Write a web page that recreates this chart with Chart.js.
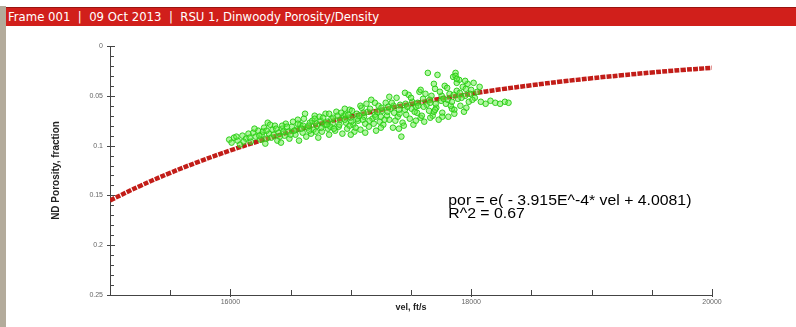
<!DOCTYPE html>
<html><head><meta charset="utf-8">
<script src="https://cdn.jsdelivr.net/npm/chart.js@4"></script>
<style>
html,body{margin:0;padding:0;background:#fff;width:796px;height:327px;overflow:hidden}
#wrap{position:relative;width:796px;height:327px;background:#fff}
#stripe{position:absolute;left:0;top:6px;width:6px;height:321px;background:#b3ab9b}
#bar{position:absolute;left:6px;top:7px;width:790px;height:19px;background:#d11f1b;border-top:1px solid #9a1410;color:#fff;font:13px 'Liberation Sans Narrow','DejaVu Sans Condensed',sans-serif;line-height:18px;padding-left:2px;box-sizing:border-box;white-space:pre}
canvas{position:absolute;left:0;top:0}
</style></head>
<body><div id="wrap"><div id="stripe"></div><div id="bar">Frame 001  |  09 Oct 2013  |  RSU 1, Dinwoody Porosity/Density</div>
<canvas id="c" width="796" height="327"></canvas></div>
<script>
// ---- data ----
const curveVel = [15000,15250,15500,15750,16000,16250,16500,16750,17000,17250,17500,17750,18000,18250,18500,18750,19000,19250,19500,19750,20000];
const curvePor = [0.155,0.1405,0.1274,0.1156,0.1048,0.0950,0.0862,0.0781,0.0708,0.0642,0.0582,0.0528,0.0479,0.0434,0.0394,0.0357,0.0324,0.0294,0.0266,0.0241,0.0219];

const scatterVel = [15990,16010,16030,16060,16080,16100,16130,16150,16170,16190,16210,16230,16250,16260,16280,16290,16310,16320,16340,16350,16370,16390,16400,16420,16430,16450,16460,16480,16490,16510,16520,16540,16550,16570,16580,16600,16610,16630,16640,16660,16670,16690,16700,16720,16730,16750,16760,16780,16790,16810,16820,16840,16850,16870,16880,16900,16910,16930,16940,16960,16970,16990,17000,17020,17030,17050,17060,17080,17090,17110,17120,17140,17150,17170,17180,17200,17210,17230,17240,17260,17270,17290,17300,17320,17330,17350,17360,17380,17390,17410,17420,17430,17450,17460,17480,17490,17510,17520,17540,17550,17570,17580,17600,17610,17630,17640,17650,17670,17680,17700,17710,17720,17730,17750,17760,17780,17790,17810,17820,17840,17850,17860,17870,17880,17890,17900,17910,17930,17940,17950,17970,17980,18000,18020,18030,18050,18070,18080,18120,18160,18200,18240,18280,18310,
16605,16655,16705,16755,16805,16855,16905,16955,17005,17055,17105,17155,17205,17255,17305,17355,17405,17455,17505,17555,17605,17655,17705,17755,17805,17855,17905,17955,16200,16330,16470,16560,16620,16740,16830,16990,17130,17280,17440,17590,17690,17830,17960,
16050,16110,16160,16240,16270,16300,16360,16380,16410,16440,16500,16530,16590,16650,16680,16710,16770,16800,16860,16890,16920,16950,16980,17010,17040,17070,17100,17160,17190,17220,17250,17310,17340,17370,17400,17470,17500,17530,17560,17620,17660,17700,17740,17770,17800,17840,17880,17920,17950,17990,18010,17860,17760,17660,17540,17400,17250,17120,17000,17870,17880,17690,17580,17450,17320,17200,17080,16950,16820,16700,16560,16430,16300];
const scatterPor = [0.094,0.097,0.092,0.095,0.099,0.090,0.093,0.088,0.096,0.087,0.091,0.085,0.094,0.089,0.082,0.098,0.077,0.088,0.092,0.084,0.080,0.095,0.087,0.097,0.083,0.090,0.078,0.086,0.093,0.081,0.076,0.089,0.084,0.095,0.079,0.087,0.073,0.091,0.082,0.077,0.088,0.084,0.070,0.080,0.092,0.075,0.086,0.079,0.068,0.083,0.089,0.073,0.078,0.085,0.066,0.081,0.074,0.088,0.070,0.077,0.083,0.064,0.072,0.079,0.086,0.068,0.075,0.084,0.062,0.071,0.078,0.066,0.081,0.054,0.073,0.069,0.085,0.060,0.076,0.065,0.079,0.057,0.070,0.074,0.063,0.082,0.067,0.052,0.071,0.059,0.091,0.077,0.064,0.069,0.049,0.073,0.056,0.079,0.061,0.067,0.046,0.072,0.053,0.076,0.059,0.027,0.065,0.050,0.070,0.043,0.062,0.029,0.074,0.055,0.067,0.040,0.058,0.071,0.048,0.063,0.031,0.064,0.027,0.045,0.053,0.034,0.060,0.041,0.066,0.050,0.038,0.056,0.044,0.037,0.052,0.046,0.041,0.056,0.058,0.055,0.057,0.058,0.056,0.057,
0.080,0.085,0.077,0.082,0.076,0.072,0.079,0.069,0.076,0.073,0.067,0.075,0.071,0.062,0.066,0.060,0.068,0.058,0.063,0.057,0.061,0.054,0.058,0.050,0.054,0.049,0.047,0.043,0.083,0.079,0.081,0.074,0.068,0.071,0.081,0.080,0.058,0.074,0.080,0.070,0.066,0.060,0.062,
0.091,0.096,0.092,0.090,0.086,0.093,0.089,0.083,0.091,0.086,0.089,0.085,0.083,0.080,0.075,0.086,0.072,0.079,0.083,0.070,0.067,0.074,0.069,0.065,0.082,0.070,0.074,0.063,0.078,0.066,0.071,0.061,0.057,0.075,0.064,0.061,0.052,0.066,0.060,0.048,0.057,0.064,0.046,0.053,0.042,0.056,0.037,0.052,0.035,0.048,0.054,0.068,0.071,0.072,0.075,0.083,0.082,0.087,0.089,0.030,0.033,0.038,0.044,0.047,0.051,0.057,0.060,0.063,0.068,0.073,0.078,0.080,0.085];

const xTickValues = [16000,18000,20000];
const xTickLabels = ['16000','18000','20000'];
const yTickValues = [0,0.05,0.1,0.15,0.2,0.25];
const yTickLabels = ['0','0.05','0.1','0.15','0.2','0.25'];
const xTitle = 'vel, ft/s';
const yTitle = 'ND Porosity, fraction';
const fitText = ['por = e( - 3.915E^-4* vel + 4.0081)', 'R^2 = 0.67'];
const fitAnchor = {vel: 17810, por: 0.156};

// ---- chart ----
const curveData = curveVel.map((v,i)=>({x:v,y:curvePor[i]}));
const scatterData = scatterVel.map((v,i)=>({x:v,y:scatterPor[i]}));

function labelFor(v, vals, labs){
  for(let i=0;i<vals.length;i++){ if(Math.abs(v-vals[i])<1e-6*Math.max(1,Math.abs(vals[i]))) return labs[i]; }
  return '';
}

const innerTicks = {
  id:'innerTicks',
  afterDraw(chart){
    const ctx = chart.ctx, xs = chart.scales.x, ys = chart.scales.y, a = chart.chartArea;
    ctx.save();
    ctx.strokeStyle = '#444'; ctx.lineWidth = 1;
    ys.ticks.forEach(t=>{
      const p = Math.round(ys.getPixelForValue(t.value))+0.5;
      const major = labelFor(t.value, yTickValues, yTickLabels)!=='';
      ctx.beginPath(); ctx.moveTo(a.left-(major?3:0), p); ctx.lineTo(a.left+(major?5:4), p); ctx.stroke();
    });
    xs.ticks.forEach(t=>{
      const p = Math.round(xs.getPixelForValue(t.value))+0.5;
      const major = labelFor(t.value, xTickValues, xTickLabels)!=='';
      ctx.beginPath(); ctx.moveTo(p, a.bottom+(major?2:0)); ctx.lineTo(p, a.bottom-(major?6:5)); ctx.stroke();
    });
    // fit equation
    ctx.fillStyle = '#000';
    ctx.font = '14px "Liberation Sans", Arial, sans-serif';
    ctx.textBaseline = 'middle';
    const tx = xs.getPixelForValue(fitAnchor.vel), ty = ys.getPixelForValue(fitAnchor.por);
    ctx.translate(tx, ty);
    ctx.scale(1.13, 1);
    fitText.forEach((s,i)=>ctx.fillText(s, 0, i*12.5));
    ctx.restore();
  }
};

new Chart(document.getElementById('c'), {
  data:{
    datasets:[
      {type:'scatter', label:'data', data:scatterData, order:0,
       pointStyle:'circle', pointRadius:2.8, borderWidth:1,
       borderColor:'rgba(40,205,20,0.95)', backgroundColor:'rgba(100,235,70,0.5)'},
      {type:'line', label:'fit', data:curveData, order:1,
       borderColor:'#c21d18', borderWidth:4.5, borderDash:[5,1.2], pointRadius:0, tension:0.4, fill:false}
    ]
  },
  plugins:[innerTicks],
  options:{
    responsive:false, animation:false,
    layout:{padding:{left:46, top:46, right:84, bottom:0}},
    plugins:{legend:{display:false}, tooltip:{enabled:false}},
    scales:{
      x:{type:'linear', min:15000, max:20000,
         afterFit(s){ s.height = 32; },
         grid:{display:false, drawTicks:false},
         border:{display:true, color:'#444', width:1},
         ticks:{stepSize:500, autoSkip:false, maxRotation:0, padding:3, color:'#666',
                font:{size:7, family:'"Liberation Sans", Arial'},
                callback:(v)=>labelFor(v, xTickValues, xTickLabels)},
         title:{display:true, text:xTitle, color:'#222', padding:{top:0,bottom:14},
                font:{size:9, weight:'bold', family:'"Liberation Sans", Arial'}}
      },
      y:{type:'linear', min:0, max:0.25, reverse:true,
         afterFit(s){ s.width = 64; },
         grid:{display:false, drawTicks:false},
         border:{display:true, color:'#444', width:1},
         ticks:{stepSize:0.01, autoSkip:false, padding:7, color:'#666',
                font:{size:7, family:'"Liberation Sans", Arial'},
                callback:(v)=>labelFor(v, yTickValues, yTickLabels)},
         title:{display:true, text:yTitle, color:'#222', padding:{top:4,bottom:0},
                font:{size:10, weight:'bold', family:'"Liberation Sans", Arial'}}
      }
    }
  }
});
</script></body></html>
